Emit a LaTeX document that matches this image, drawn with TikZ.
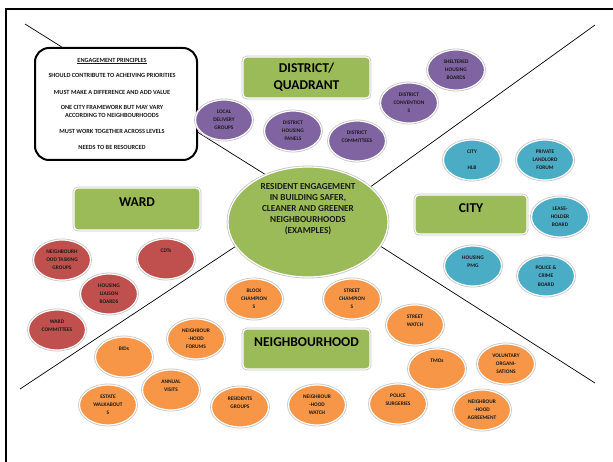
\documentclass[tikz,border=0pt]{standalone}
\usepackage{fontspec}
\setmainfont{Carlito}
\usetikzlibrary{shapes.geometric}
\definecolor{cpurple}{HTML}{8064A2}
\definecolor{cblue}{HTML}{4BACC6}
\definecolor{cred}{HTML}{C0504D}
\definecolor{corange}{HTML}{F79646}
\definecolor{cgreen}{HTML}{9BBB59}
\definecolor{ctext}{HTML}{1A1A1A}
\begin{document}
\begin{tikzpicture}[x=1pt,y=-1pt,
  bub/.style={ellipse, minimum width=57pt, minimum height=40pt, inner sep=0pt,
    align=center, text=ctext, font=\bfseries\fontsize{5.4}{8.2}\selectfont,
    draw=white, line width=1.2pt, preaction={draw=black!22, line width=2.8pt}},
  pbub/.style={bub, fill=cpurple},
  bbub/.style={bub, fill=cblue},
  rbub/.style={bub, fill=cred},
  obub/.style={bub, fill=corange},
  lvl/.style={rectangle, rounded corners=4pt, fill=cgreen, draw=white, line width=1.2pt,
    preaction={draw=black!22, line width=2.8pt}, inner sep=0pt, align=center,
    font=\bfseries\fontsize{13.5}{17}\selectfont},
  lvltext/.style={font=\bfseries\fontsize{13.5}{16}\selectfont},
  conn/.style={draw=black, line width=0.7pt}]
\useasboundingbox (0,0) rectangle (613,462);
\clip (0,0) rectangle (613,462);
% outer frame
\draw[line width=2pt] (6,9) rectangle (650,500);
% connector lines
\coordinate (l1a) at (25,24);
\coordinate (l1b) at (290,190);
\coordinate (l2a) at (595,25);
\coordinate (l2b) at (330,216);
\coordinate (l3a) at (20,389);
\coordinate (l3b) at (280,217);
\coordinate (l4a) at (595,383);
\coordinate (l4b) at (330,214);
\draw[conn] (l1a) -- (l1b);
\draw[conn] (l2a) -- (l2b);
\draw[conn] (l3a) -- (l3b);
\draw[conn] (l4a) -- (l4b);
% principles box
\node[draw=black, line width=2pt, fill=white, rounded corners=14pt, minimum width=162pt,
  minimum height=112pt, inner sep=0pt] (princ) at (116,104) {};
\node[font=\bfseries\fontsize{6.3}{8}\selectfont, align=center, text=ctext, inner sep=0pt]
  (princtext) at (112,103.5)
  {\underline{ENGAGEMENT PRINCIPLES}\\[7pt]
   SHOULD CONTRIBUTE TO ACHEIVING PRIORITIES\\[9pt]
   MUST MAKE A DIFFERENCE AND ADD VALUE\\[7pt]
   ONE CITY FRAMEWORK BUT MAY VARY\\
   ACCORDING TO NEIGHBOURHOODS\\[8pt]
   MUST WORK TOGETHER ACROSS LEVELS\\[8pt]
   NEEDS TO BE RESOURCED};
% central ellipse
\node[ellipse, fill=cgreen, draw=white, line width=1.2pt, preaction={draw=black!22, line width=2.8pt},
  minimum width=160pt, minimum height=110pt, inner sep=0pt,
  label={[yshift=13pt, align=center, text=ctext, font=\bfseries\fontsize{9.2}{11}\selectfont]center:RESIDENT ENGAGEMENT\\IN BUILDING SAFER,\\CLEANER AND GREENER\\NEIGHBOURHOODS\\(EXAMPLES)}]
  (main) at (308,222) {};
% level boxes
\node[lvl, minimum width=127pt, minimum height=41pt] (district) at (306.5,77.5) {DISTRICT/\\QUADRANT};
\node[lvl, minimum width=126pt, minimum height=42pt,
  label={[yshift=7pt, lvltext]center:WARD}] (ward) at (137,209) {};
\node[lvl, minimum width=112pt, minimum height=39pt,
  label={[yshift=6.5pt, lvltext]center:CITY}] (city) at (471,214.5) {};
\node[lvl, minimum width=127pt, minimum height=40pt,
  label={[yshift=7pt, lvltext]center:NEIGHBOURHOOD}] (nbh) at (306.5,349) {};
% purple
\node[pbub] (ldg) at (224,120) {LOCAL\\DELIVERY\\GROUPS};
\node[pbub] (dhp) at (293,131) {DISTRICT\\HOUSING\\PANELS};
\node[pbub] (dcm) at (357,141) {DISTRICT\\COMMITTEES\\{}};
\node[pbub] (dcv) at (409,103) {DISTRICT\\CONVENTION\\S};
\node[pbub] (shb) at (456,70) {SHELTERED\\HOUSING\\BOARDS};
% blue
\node[bbub] (chlb) at (472,160) {CITY\\{}\\HLB};
\node[bbub] (plf) at (545,160) {PRIVATE\\LANDLORD\\FORUM};
\node[bbub] (lhb) at (560,217) {LEASE-\\HOLDER\\BOARD};
\node[bbub] (hpmg) at (473,266) {HOUSING\\PMG\\{}};
\node[bbub] (pcb) at (546,276) {POLICE \&\\CRIME\\BOARD};
% red
\node[rbub] (ntg) at (62,260) {NEIGHBOURH\\OOD TASKING\\GROUPS};
\node[rbub] (cdt) at (166,259) {CDTs\\{}\\{}};
\node[rbub] (hlb) at (109,294) {HOUSING\\LIAISON\\BOARDS};
\node[rbub] (wcm) at (57,330) {WARD\\COMMITTEES\\{}};
% orange
\node[obub] (bch) at (254,299) {BLOCK\\CHAMPION\\S};
\node[obub] (sch) at (352,299) {STREET\\CHAMPION\\S};
\node[obub] (swt) at (415,325) {STREET\\WATCH\\{}};
\node[obub] (nhf) at (196,339) {NEIGHBOUR\\-HOOD\\FORUMS};
\node[obub] (bid) at (124,357) {BIDs\\{}\\{}};
\node[obub] (anv) at (171,390) {ANNUAL\\VISITS\\{}};
\node[obub] (esw) at (108,405) {ESTATE\\WALKABOUT\\S};
\node[obub] (rsg) at (240,407) {RESIDENTS\\GROUPS\\{}};
\node[obub] (nhw) at (317,405) {NEIGHBOUR\\-HOOD\\WATCH};
\node[obub] (psg) at (398,404) {POLICE\\SURGERIES\\{}};
\node[obub] (tmo) at (437,369) {TMOs\\{}\\{}};
\node[obub] (vol) at (506,364) {VOLUNTARY\\ORGANI-\\SATIONS};
\node[obub] (nha) at (482,410) {NEIGHBOUR\\-HOOD\\AGREEMENT};
\end{tikzpicture}
\end{document}
